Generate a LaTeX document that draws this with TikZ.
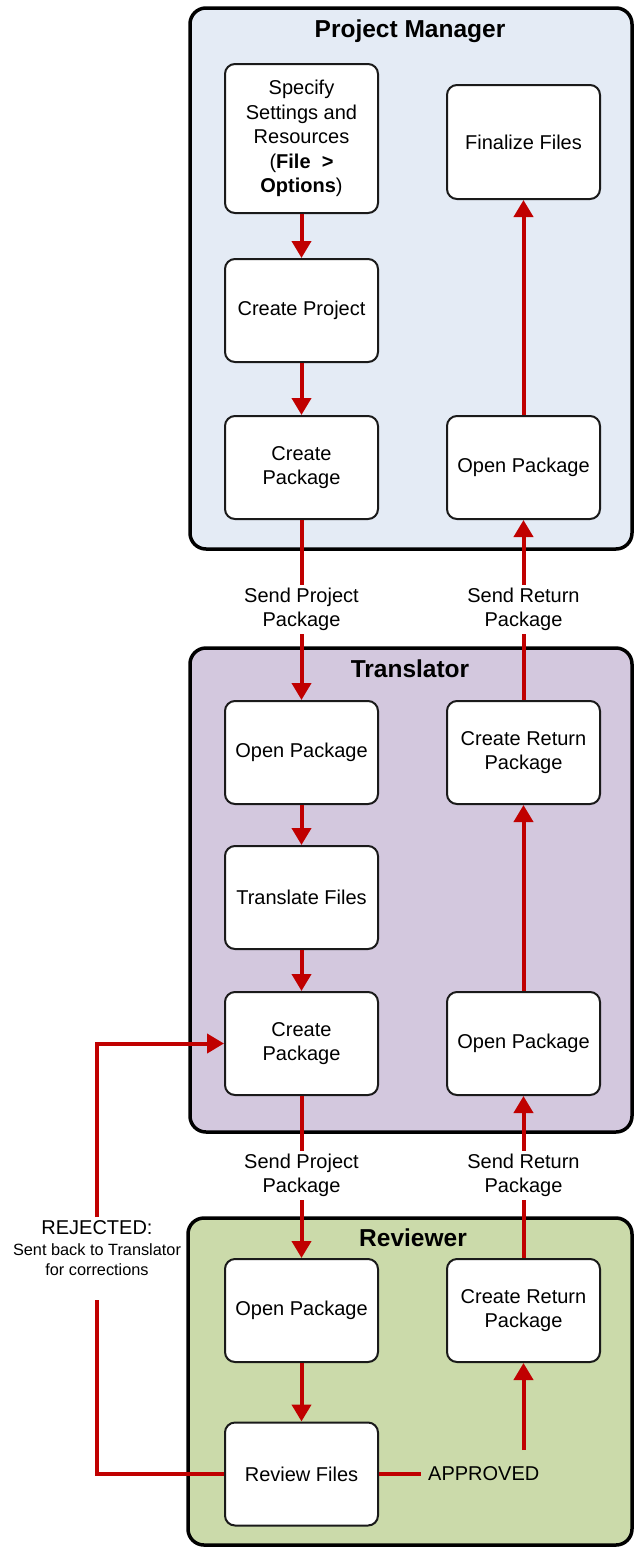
\documentclass[tikz,border=0pt]{standalone}
\usepackage{fontspec}
\setmainfont{Liberation Sans}
\usetikzlibrary{arrows.meta}
\definecolor{pmfill}{HTML}{E4EBF5}
\definecolor{trfill}{HTML}{D3C8DE}
\definecolor{rvfill}{HTML}{CBDAAA}
\definecolor{flowred}{HTML}{C00000}
\definecolor{boxline}{HTML}{1A1A1A}
\begin{document}
\begin{tikzpicture}[x=1pt,y=-1pt,
  lane/.style={draw=black,line width=3.5pt,rounded corners=16pt},
  stepbox/.style={draw=boxline,line width=2pt,fill=white,rounded corners=10pt,
    minimum width=153pt,minimum height=103pt,align=center,inner sep=2pt,
    font=\fontsize{20}{24.5}\selectfont},
  lanetitle/.style={font=\bfseries\fontsize{24.5}{28}\selectfont,anchor=base,inner sep=0pt},
  flow/.style={draw=flowred,line width=4pt},
  flowarrow/.style={flow,-{Triangle[width=19pt,length=17pt]}},
  lbl/.style={align=center,inner sep=0pt,inner ysep=3pt,font=\fontsize{20}{24.5}\selectfont}
]
\useasboundingbox (0,0) rectangle (635,1547);
% lanes
\draw[lane,fill=pmfill] (190,8) rectangle (632,549);
\draw[lane,fill=trfill] (190,648) rectangle (632,1132);
\draw[lane,fill=rvfill] (188,1218) rectangle (632,1545);
\node[lanetitle] (pmtitle) at (410,37) {Project Manager};
\node[lanetitle] (trtitle) at (410,677) {Translator};
\node[lanetitle] (rvtitle) at (413,1246) {Reviewer};
% Project Manager
\node[stepbox,minimum height=149pt] (specify) at (301.5,138.5)
  {Specify\\Settings and\\Resources\\(\textbf{File\ \ >}\\\textbf{Options})};
\node[stepbox,minimum height=114pt] (finalize) at (523.5,142) {Finalize Files};
\node[stepbox] (pmproj) at (301.5,310.5) {Create Project};
\node[stepbox] (pmpkg) at (301.5,467.5) {Create\\Package};
\node[stepbox] (pmopen) at (523.5,467.5) {Open Package};
% Translator
\node[stepbox] (tropen) at (301.5,752.5) {Open Package};
\node[stepbox] (trtrans) at (301.5,897.5) {Translate Files};
\node[stepbox] (trpkg) at (301.5,1043.5) {Create\\Package};
\node[stepbox] (trret) at (523.5,752.5) {Create Return\\Package};
\node[stepbox] (tropen2) at (523.5,1043.5) {Open Package};
% Reviewer
\node[stepbox] (rvopen) at (301.5,1310.5) {Open Package};
\node[stepbox] (rvret) at (523.5,1310.5) {Create Return\\Package};
\node[stepbox] (rvreview) at (301.5,1474) {Review Files};
% labels
\node[lbl] (sp1) at (301.5,609.5) {Send Project\\Package};
\node[lbl] (sr1) at (523.5,609.5) {Send Return\\Package};
\node[lbl] (sp2) at (301.5,1175.5) {Send Project\\Package};
\node[lbl] (sr2) at (523.5,1175.5) {Send Return\\Package};
\node[lbl,anchor=west,inner xsep=7pt] (appr) at (421,1474) {APPROVED};
\node[align=center,inner sep=0pt,font=\fontsize{16.3}{19.5}\selectfont] (rej) at (97,1248)
  {{\fontsize{20}{22}\selectfont REJECTED:}\\[2pt]Sent back to Translator\\for corrections};
\coordinate (apup) at (523.5,1450);
\coordinate (rjlow) at (97,1300);
\coordinate (rjhigh) at (97,1217);
% connectors
\draw[flowarrow] (specify) -- (pmproj);
\draw[flowarrow] (pmproj) -- (pmpkg);
\draw[flow] (pmpkg) -- (sp1);
\draw[flowarrow] (sp1) -- (tropen);
\draw[flowarrow] (tropen) -- (trtrans);
\draw[flowarrow] (trtrans) -- (trpkg);
\draw[flow] (trpkg) -- (sp2);
\draw[flowarrow] (sp2) -- (rvopen);
\draw[flowarrow] (rvopen) -- (rvreview);
\draw[flow] (rvreview) -- (appr);
\draw[flowarrow] (apup) -- (rvret);
\draw[flow] (rvret) -- (sr2);
\draw[flowarrow] (sr2) -- (tropen2);
\draw[flowarrow] (tropen2) -- (trret);
\draw[flow] (trret) -- (sr1);
\draw[flowarrow] (sr1) -- (pmopen);
\draw[flowarrow] (pmopen) -- (finalize);
\draw[flow] (rvreview.west) -| (rjlow);
\draw[flowarrow] (rjhigh) |- (trpkg.west);
\end{tikzpicture}
\end{document}
